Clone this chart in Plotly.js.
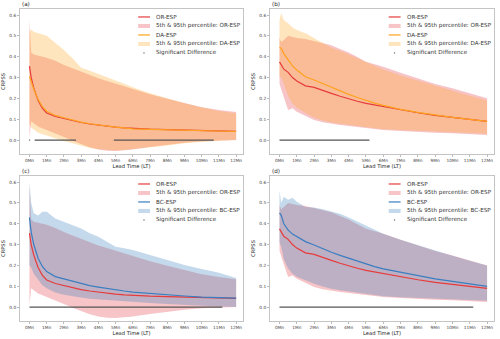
<!DOCTYPE html>
<html>
<head>
<meta charset="utf-8">
<script src="https://cdn.plot.ly/plotly-3.0.1.min.js"></script>
<style>
html,body{margin:0;padding:0;background:#fff;}
#plot{width:500px;height:339px;}
</style>
</head>
<body>
<div id="plot"></div>
<script>
/* lead time in months */
var leadTime=[0,0.1,0.25,0.5,0.75,1,1.5,2,2.5,3,3.5,4,4.5,5,5.5,6,7,8,9,10,11,12];
var tickVals=[0,1,2,3,4,5,6,7,8,9,10,11,12];
var tickText=['0Mn','1Mn','2Mn','3Mn','4Mn','5Mn','6Mn','7Mn','8Mn','9Mn','10Mn','11Mn','12Mn'];
var yTicks=[0,0.1,0.2,0.3,0.4,0.5,0.6];

/* left column (a, c): OR-ESP */
var orMeanL=[0.355,0.3,0.25,0.19,0.152,0.13,0.113,0.103,0.092,0.084,0.077,0.071,0.066,0.062,0.058,0.055,0.052,0.05,0.048,0.046,0.044,0.042];
var orLowL=[0.01,0.09,0.08,0.065,0.057,0.048,0.032,0.015,-0.003,-0.02,-0.035,-0.045,-0.051,-0.053,-0.05,-0.045,-0.034,-0.022,-0.013,-0.006,-0.002,0.0];
var orUpL=[0.58,0.42,0.41,0.405,0.4,0.395,0.38,0.36,0.344,0.328,0.31,0.296,0.283,0.27,0.256,0.243,0.22,0.198,0.176,0.157,0.144,0.134];
/* (a) DA-ESP */
var daMeanA=[0.305,0.28,0.245,0.195,0.16,0.138,0.118,0.107,0.095,0.086,0.078,0.072,0.067,0.062,0.058,0.054,0.051,0.049,0.047,0.045,0.043,0.041];
var daLowA=[0.08,0.06,0.05,0.035,0.028,0.02,0.008,-0.005,-0.015,-0.028,-0.038,-0.044,-0.048,-0.05,-0.048,-0.044,-0.036,-0.026,-0.016,-0.008,-0.003,0.0];
var daUpA=[0.52,0.53,0.52,0.512,0.506,0.5,0.468,0.432,0.392,0.347,0.332,0.317,0.302,0.288,0.27,0.253,0.224,0.2,0.176,0.157,0.139,0.128];
/* (c) BC-ESP */
var bcMeanC=[0.43,0.36,0.3,0.234,0.195,0.17,0.146,0.135,0.122,0.111,0.103,0.096,0.089,0.083,0.077,0.072,0.065,0.059,0.053,0.048,0.045,0.043];
var bcLowC=[0.2,0.19,0.16,0.13,0.105,0.09,0.07,0.059,0.052,0.046,0.04,0.035,0.032,0.03,0.027,0.024,0.019,0.014,0.01,0.006,0.003,0.0];
var bcUpC=[0.6,0.5,0.45,0.44,0.457,0.457,0.425,0.41,0.393,0.377,0.354,0.338,0.314,0.29,0.282,0.274,0.25,0.226,0.202,0.183,0.165,0.139];

/* right column (b, d): OR-ESP */
var orMeanR=[0.375,0.36,0.34,0.325,0.3,0.283,0.26,0.253,0.237,0.224,0.21,0.197,0.186,0.176,0.168,0.16,0.144,0.131,0.118,0.109,0.099,0.09];
var orLowR=[0.27,0.24,0.205,0.144,0.152,0.136,0.115,0.096,0.085,0.077,0.072,0.067,0.061,0.056,0.052,0.048,0.043,0.038,0.035,0.032,0.029,0.024];
var orUpR=[0.49,0.47,0.48,0.5,0.495,0.49,0.485,0.475,0.465,0.455,0.437,0.42,0.398,0.376,0.364,0.352,0.323,0.296,0.269,0.248,0.224,0.2];
/* (b) DA-ESP */
var daMeanB=[0.445,0.44,0.415,0.384,0.356,0.336,0.304,0.288,0.27,0.253,0.236,0.219,0.204,0.189,0.177,0.166,0.147,0.133,0.12,0.109,0.099,0.09];
var daLowB=[0.3,0.3,0.27,0.21,0.175,0.155,0.13,0.108,0.094,0.084,0.078,0.072,0.066,0.061,0.056,0.052,0.047,0.043,0.04,0.037,0.034,0.03];
var daUpB=[0.576,0.608,0.575,0.56,0.54,0.528,0.512,0.488,0.464,0.443,0.428,0.41,0.39,0.372,0.355,0.338,0.31,0.285,0.26,0.237,0.213,0.19];
/* (d) BC-ESP */
var bcMeanD=[0.452,0.44,0.4,0.369,0.35,0.338,0.314,0.298,0.28,0.263,0.248,0.234,0.219,0.205,0.194,0.183,0.167,0.15,0.135,0.123,0.111,0.099];
var bcLowD=[0.31,0.29,0.23,0.185,0.16,0.145,0.13,0.112,0.098,0.088,0.08,0.074,0.068,0.062,0.057,0.052,0.047,0.043,0.04,0.036,0.033,0.03];
var bcUpD=[0.56,0.5,0.53,0.515,0.525,0.505,0.48,0.478,0.47,0.458,0.448,0.43,0.41,0.39,0.37,0.352,0.323,0.297,0.27,0.246,0.222,0.2];

/* significant difference spans (months), null separates spans */
var sigA=[-0.02,0.04,null,0.3,2.7,null,4.9,10.7];
var sigB=[0,5.2];
var sigC=[0,11.2];
var sigD=[0,11.2];

var RED='#e63b3b', RED_F='rgba(230,60,70,0.3)';
var ORANGE='#ffa21f', ORANGE_F='rgba(255,170,40,0.3)';
var BLUE='#3a7dc0', BLUE_F='rgba(60,130,190,0.3)';
var SIG='#555555';
var FONT='DejaVu Sans';

var panels=[
    {tag:'(a)',n:'',or:[orMeanL,orLowL,orUpL],ot:[daMeanA,daLowA,daUpA],name:'DA-ESP',c:ORANGE,f:ORANGE_F,sig:sigA},
    {tag:'(b)',n:'2',or:[orMeanR,orLowR,orUpR],ot:[daMeanB,daLowB,daUpB],name:'DA-ESP',c:ORANGE,f:ORANGE_F,sig:sigB},
    {tag:'(c)',n:'3',or:[orMeanL,orLowL,orUpL],ot:[bcMeanC,bcLowC,bcUpC],name:'BC-ESP',c:BLUE,f:BLUE_F,sig:sigC},
    {tag:'(d)',n:'4',or:[orMeanR,orLowR,orUpR],ot:[bcMeanD,bcLowD,bcUpD],name:'BC-ESP',c:BLUE,f:BLUE_F,sig:sigD}
];

function band(lo,up,xa,ya,col){
    return {x:leadTime.concat(leadTime.slice().reverse()),y:up.concat(lo.slice().reverse()),
        xaxis:xa,yaxis:ya,mode:'lines',fill:'toself',fillcolor:col,line:{width:0},
        hoverinfo:'skip',showlegend:false};
}
function line(y,xa,ya,col){
    return {x:leadTime,y:y,xaxis:xa,yaxis:ya,mode:'lines',line:{color:col,width:1.2},showlegend:false};
}

var data=[],shapes=[],annotations=[];
var rowY=[0.945,0.883,0.821,0.759,0.697];
panels.forEach(function(p){
    var xa='x'+p.n, ya='y'+p.n;
    data.push(band(p.or[1],p.or[2],xa,ya,RED_F));
    data.push(band(p.ot[1],p.ot[2],xa,ya,p.f));
    data.push(line(p.or[0],xa,ya,RED));
    data.push(line(p.ot[0],xa,ya,p.c));
    data.push({x:p.sig,y:p.sig.map(function(v){return v===null?null:0;}),xaxis:xa,yaxis:ya,
        mode:'lines',line:{color:SIG,width:1.3},showlegend:false});

    /* hand made legend */
    var xr=xa+' domain', yr=ya+' domain';
    var labels=['OR-ESP','5th & 95th percentile: OR-ESP',p.name,'5th & 95th percentile: '+p.name,'Significant Difference'];
    shapes.push({type:'line',xref:xr,yref:yr,x0:0.53,x1:0.583,y0:rowY[0],y1:rowY[0],line:{color:RED,width:1.2}});
    shapes.push({type:'rect',xref:xr,yref:yr,x0:0.53,x1:0.583,y0:rowY[1]-0.014,y1:rowY[1]+0.014,fillcolor:RED_F,line:{width:0}});
    shapes.push({type:'line',xref:xr,yref:yr,x0:0.53,x1:0.583,y0:rowY[2],y1:rowY[2],line:{color:p.c,width:1.2}});
    shapes.push({type:'rect',xref:xr,yref:yr,x0:0.53,x1:0.583,y0:rowY[3]-0.014,y1:rowY[3]+0.014,fillcolor:p.f,line:{width:0}});
    shapes.push({type:'circle',xref:xr,yref:yr,x0:0.553,x1:0.559,y0:rowY[4]-0.004,y1:rowY[4]+0.004,fillcolor:SIG,line:{width:0}});
    labels.forEach(function(t,i){
        annotations.push({xref:xr,yref:yr,x:0.603,y:rowY[i],text:t,showarrow:false,xanchor:'left',yanchor:'middle',
            font:{family:FONT,size:5.6,color:'#333'}});
    });
    annotations.push({xref:xr,yref:yr,x:0,y:1,text:p.tag,showarrow:false,xanchor:'left',yanchor:'bottom',
        font:{family:FONT,size:5.6,color:'#222'}});
});

function xAxis(dom,anchor){
    return {domain:dom,anchor:anchor,range:[-0.55,12.4],tickvals:tickVals,ticktext:tickText,
        tickfont:{family:FONT,size:4.3,color:'#444'},ticks:'outside',ticklen:2,tickcolor:'#bbb',
        showline:true,mirror:true,linecolor:'#c4c4c4',linewidth:1,showgrid:false,zeroline:false,
        title:{text:'Lead Time (LT)',font:{family:FONT,size:5.2,color:'#222'},standoff:2}};
}
function yAxis(dom,anchor){
    return {domain:dom,anchor:anchor,range:[-0.067,0.629],tickvals:yTicks,tickformat:'.1f',
        tickfont:{family:FONT,size:4.3,color:'#444'},ticks:'outside',ticklen:2,tickcolor:'#bbb',
        showline:true,mirror:true,linecolor:'#c4c4c4',linewidth:1,showgrid:false,zeroline:false,
        title:{text:'CRPSS',font:{family:FONT,size:5.2,color:'#222'},standoff:3}};
}
var colL=[0,0.4705], colR=[0.5274,1], rowT=[0.5353,1], rowB=[0,0.4647];

var layout={
    width:500,height:339,
    margin:{l:20,r:6,t:9,b:18},
    paper_bgcolor:'#fff',plot_bgcolor:'#fff',
    showlegend:false,
    xaxis:xAxis(colL,'y'),yaxis:yAxis(rowT,'x'),
    xaxis2:xAxis(colR,'y2'),yaxis2:yAxis(rowT,'x2'),
    xaxis3:xAxis(colL,'y3'),yaxis3:yAxis(rowB,'x3'),
    xaxis4:xAxis(colR,'y4'),yaxis4:yAxis(rowB,'x4'),
    shapes:shapes,annotations:annotations
};

Plotly.newPlot('plot',data,layout,{displayModeBar:false,staticPlot:true});
</script>
</body>
</html>
